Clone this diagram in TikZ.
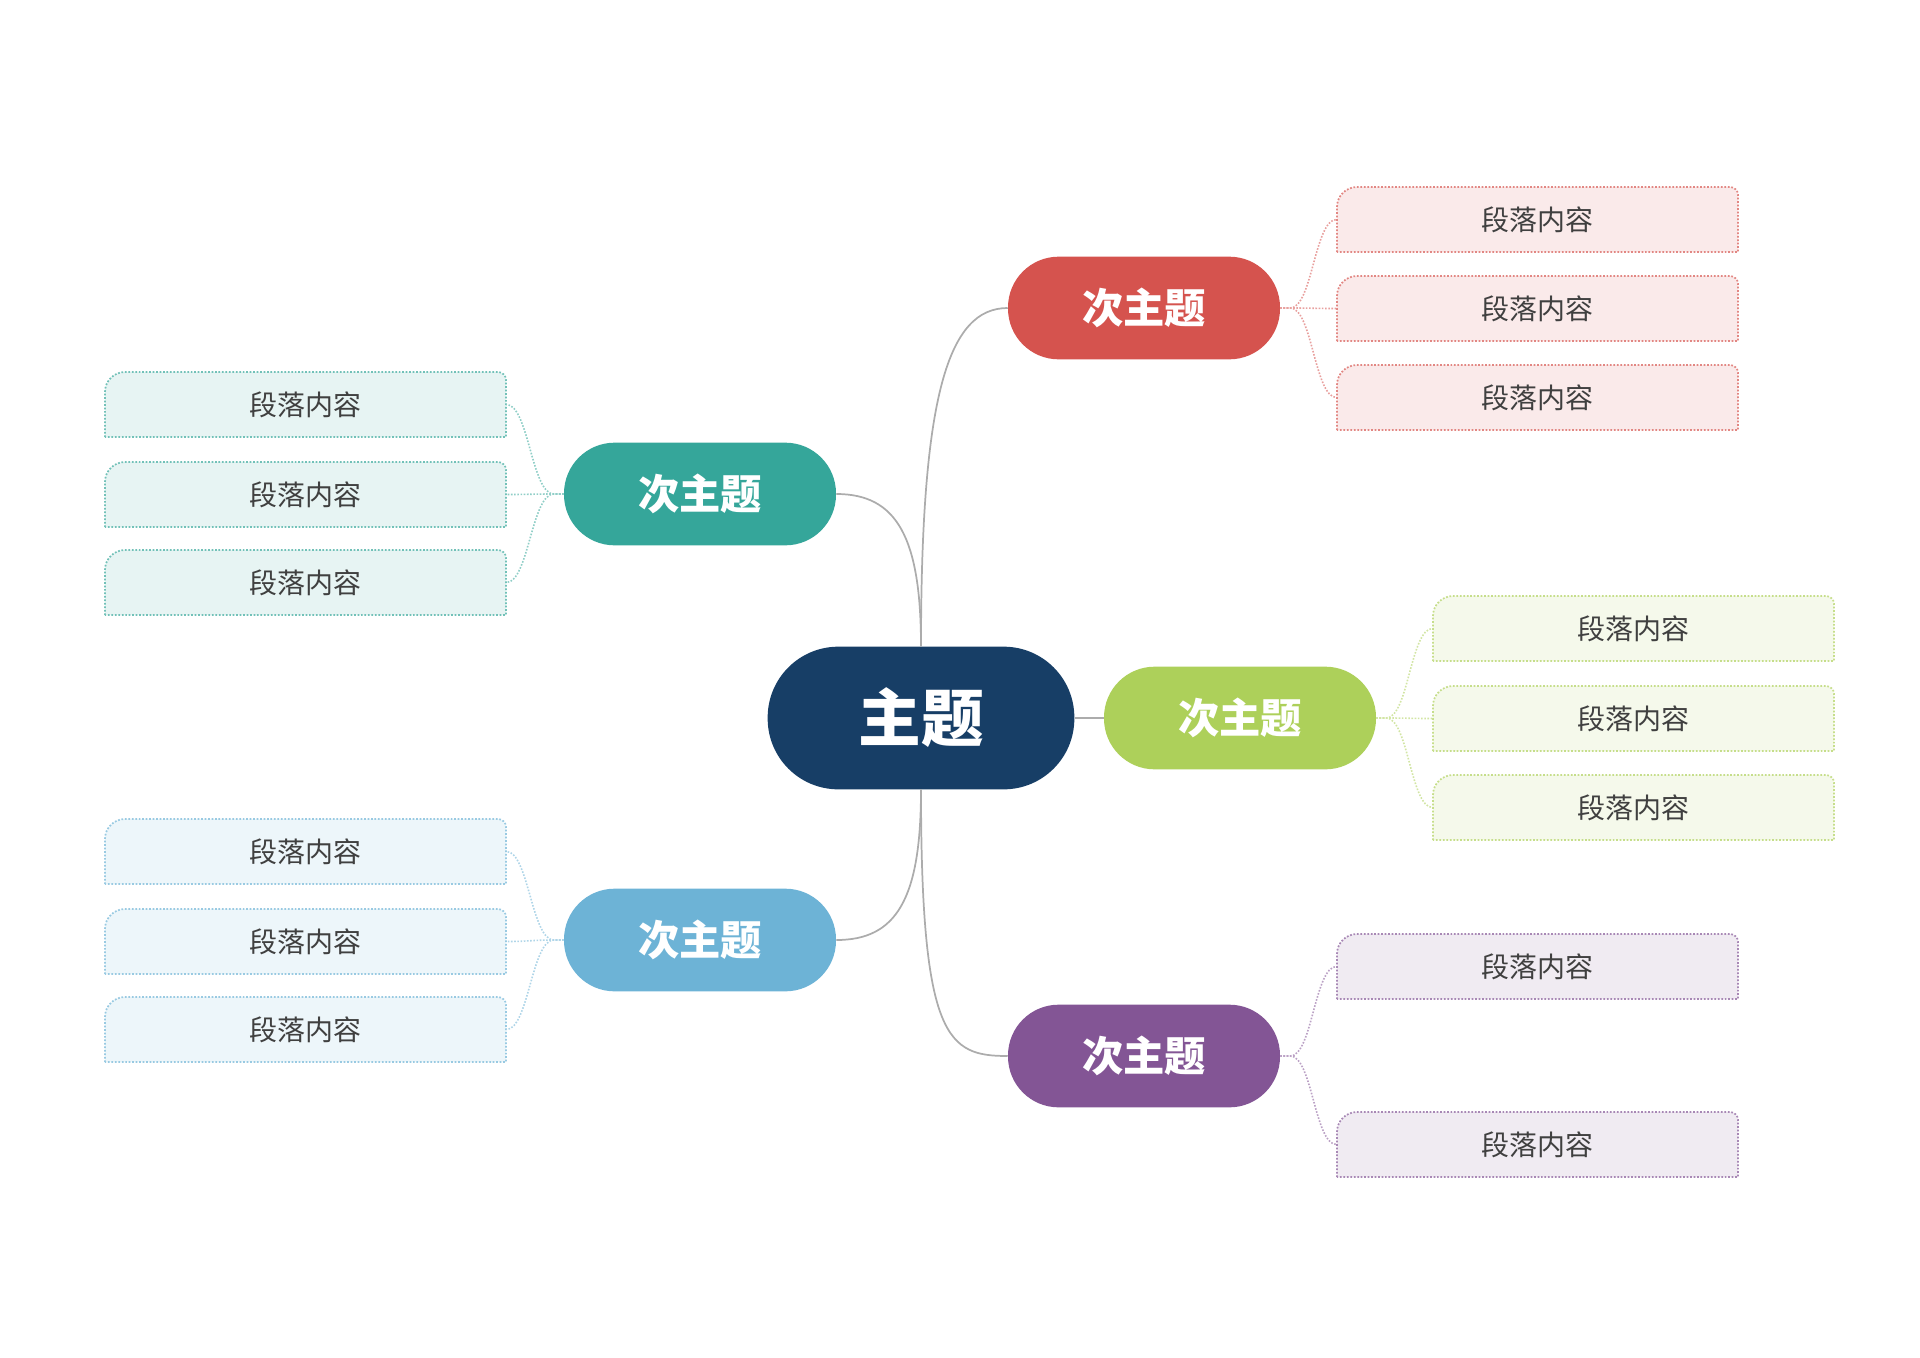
\documentclass[tikz,border=0pt]{standalone}
\usepackage{fontspec}
\setmainfont{Noto Sans CJK SC}
\definecolor{cmain}{HTML}{173E66}
\definecolor{cred}{HTML}{D5534E}
\definecolor{cteal}{HTML}{35A69A}
\definecolor{cgreen}{HTML}{ADD05A}
\definecolor{cblue}{HTML}{6DB3D6}
\definecolor{cpurple}{HTML}{835595}
\definecolor{ctext}{HTML}{404040}
\newcommand\leafbox[4]{% name, left x, top y, color
  \path[draw=#4!70, fill=#4!12, line width=1.3pt, dash pattern=on 1.3pt off 1.3pt]
    (#2,#3+65) -- (#2,#3+20) arc[start angle=180,end angle=90,radius=15pt]
    -- (#2+393,#3) arc[start angle=90,end angle=0,radius=6pt] -- (#2+401,#3+65) -- cycle;
  \node[leaftext] (#1) at (#2+200.5,#3+32.5) {段落内容};
}
\tikzset{
  leaftext/.style={minimum width=301pt, minimum height=48.75pt, inner sep=0pt, text=ctext, font=\fontsize{21}{24}\selectfont, yshift=-0pt},
  topic/.style={rounded corners=38pt, minimum width=204pt, minimum height=77pt, inner sep=0pt, text=white, font=\bfseries\fontsize{31}{34}\selectfont},
  mainline/.style={draw=gray!65, line width=1.3pt},
  leafline/.style={line width=1.2pt, dash pattern=on 1.2pt off 1.2pt},
}
\begin{document}
\begin{tikzpicture}[x=0.75pt,y=-0.75pt]
\useasboundingbox (0,0) rectangle (1920,1357);
\node[topic, fill=cmain, rounded corners=53pt, minimum width=230pt, minimum height=107pt, font=\bfseries\fontsize{47}{50}\selectfont] (main) at (921,718) {主题};
\node[topic, fill=cred] (red) at (1144,308) {次主题};
\node[topic, fill=cteal] (teal) at (700,494) {次主题};
\node[topic, fill=cgreen] (green) at (1240,718) {次主题};
\node[topic, fill=cblue] (blue) at (700,940) {次主题};
\node[topic, fill=cpurple] (purple) at (1144,1056) {次主题};

\draw[mainline] (main.north) .. controls +(0,-250) and +(-60,0) .. (red.west);
\draw[mainline] (main.north) .. controls +(0,-110) and +(60,0) .. (teal.east);
\draw[mainline] (main.east) -- (green.west);
\draw[mainline] (main.south) .. controls +(0,110) and +(60,0) .. (blue.east);
\draw[mainline] (main.south) .. controls +(0,250) and +(-60,0) .. (purple.west);

\leafbox{r1}{1337}{187}{cred}
\leafbox{r2}{1337}{276}{cred}
\leafbox{r3}{1337}{365}{cred}
\leafbox{t1}{105}{372}{cteal}
\leafbox{t2}{105}{462}{cteal}
\leafbox{t3}{105}{550}{cteal}
\leafbox{g1}{1433}{596}{cgreen}
\leafbox{g2}{1433}{686}{cgreen}
\leafbox{g3}{1433}{775}{cgreen}
\leafbox{b1}{105}{819}{cblue}
\leafbox{b2}{105}{909}{cblue}
\leafbox{b3}{105}{997}{cblue}
\leafbox{p1}{1337}{934}{cpurple}
\leafbox{p2}{1337}{1112}{cpurple}

\foreach \s/\c/\l in {red/cred/r1,red/cred/r2,red/cred/r3,green/cgreen/g1,green/cgreen/g2,green/cgreen/g3,purple/cpurple/p1,purple/cpurple/p2}{
  \draw[leafline, draw=\c!55] (\s.east) -- ++(10,0) .. controls +(22,0) and +(-22,0) .. (\l.west);
}
\foreach \s/\c/\l in {teal/cteal/t1,teal/cteal/t2,teal/cteal/t3,blue/cblue/b1,blue/cblue/b2,blue/cblue/b3}{
  \draw[leafline, draw=\c!55] (\s.west) -- ++(-10,0) .. controls +(-22,0) and +(22,0) .. (\l.east);
}
\end{tikzpicture}
\end{document}
